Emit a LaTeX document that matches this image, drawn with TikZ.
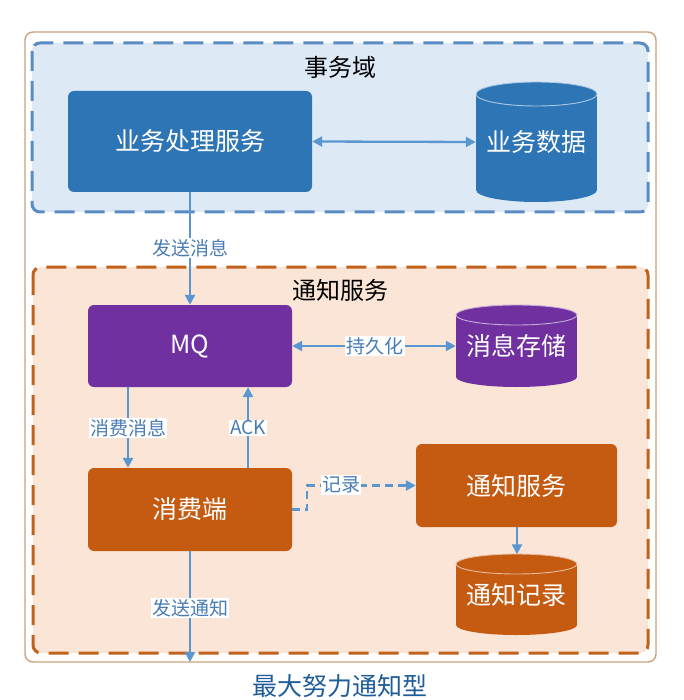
\documentclass[tikz,border=0pt]{standalone}
\usepackage{fontspec}
\setmainfont{Noto Sans CJK SC}
\usetikzlibrary{arrows.meta}
\definecolor{bluebox}{HTML}{2E75B6}
\definecolor{purplebox}{HTML}{7030A0}
\definecolor{orangebox}{HTML}{C55A11}
\definecolor{bluefill}{HTML}{DDEAF6}
\definecolor{blueline}{HTML}{5A8CC4}
\definecolor{orangefill}{HTML}{FBE5D6}
\definecolor{orangeline}{HTML}{C0621C}
\definecolor{arrowc}{HTML}{5A96CF}
\definecolor{framec}{HTML}{C9A27E}
\definecolor{labelc}{HTML}{4A7DB5}
\definecolor{titlec}{HTML}{1F5C99}
\newcommand\mycyl[6]{%
  \fill[#6] (#1-#4,#2+#5) rectangle (#1+#4,#3-#5);
  \fill[#6] (#1,#3-#5) ellipse ({#4pt} and {#5pt});
  \fill[#6] (#1,#2+#5) ellipse ({#4pt} and {#5pt});
  \draw[white!60!#6, line width=0.9pt] (#1,#2+#5) ellipse ({#4pt} and {#5pt});
}
\tikzset{
  box/.style={rounded corners=6pt, text=white, font=\fontsize{25}{28}\selectfont, inner sep=0pt},
  cyltext/.style={text=white, font=\fontsize{25}{28}\selectfont, inner sep=0pt},
  domtitle/.style={font=\fontsize{24}{28}\selectfont, text=black},
  lbl/.style={fill=white, text=labelc, font=\fontsize{19}{22}\selectfont, inner sep=1.2pt},
  conn/.style={draw=arrowc, line width=2.3pt, -{Triangle[length=10pt,width=10pt]}},
  dconn/.style={draw=arrowc, line width=2.3pt, {Triangle[length=10pt,width=10pt]}-{Triangle[length=10pt,width=10pt]}},
  dombox/.style={rounded corners=8pt, line width=3pt, dash pattern=on 20pt off 10pt},
}
\begin{document}
\begin{tikzpicture}[x=1pt, y=-1pt]
\useasboundingbox (0,0) rectangle (683,700);
% outer frame
\draw[framec, line width=1.4pt, rounded corners=8pt, fill=white] (25,32) rectangle (656,662);
% domains
\draw[dombox, draw=blueline, fill=bluefill] (32,43) rectangle (648,212);
\draw[dombox, draw=orangeline, fill=orangefill] (33,267) rectangle (648,653);
\node[domtitle] (t1) at (340,67) {事务域};
\node[domtitle] (t2) at (340,290) {通知服务};
% cylinders
\mycyl{536.5}{82}{202}{60.5}{12}{bluebox}
\mycyl{516.5}{305}{387}{60.5}{10}{purplebox}
\mycyl{516.5}{554}{635}{60.5}{10}{orangebox}
% nodes
\node[box, fill=bluebox, minimum width=244pt, minimum height=101pt] (biz) at (190,141.5) {业务处理服务};
\node[cyltext, minimum width=121pt, minimum height=120pt] (bdata) at (536.5,142) {业务数据};
\node[box, fill=purplebox, minimum width=204pt, minimum height=82pt] (mq) at (190,346) {MQ};
\node[cyltext, minimum width=121pt, minimum height=82pt] (mstore) at (516.5,346) {消息存储};
\node[box, fill=orangebox, minimum width=204pt, minimum height=83pt] (cons) at (190,509.5) {消费端};
\node[box, fill=orangebox, minimum width=201pt, minimum height=83pt] (nsvc) at (516.5,485.5) {通知服务};
\node[cyltext, minimum width=121pt, minimum height=81pt] (nrec) at (516.5,595) {通知记录};
\coordinate (out) at (190,662);
% connectors
\draw[dconn] (biz.east) -- (bdata.west);
\draw[conn] (biz.south) -- (mq.north);
\draw[dconn] (mq.east) -- (mstore.west);
\draw[conn] (mq.south -| 128,0) -- (cons.north -| 128,0);
\draw[conn] (cons.north -| 248,0) -- (mq.south -| 248,0);
\draw[conn, dash pattern=on 8pt off 5pt] (cons.east) -- ++(15,0) |- (nsvc.west);
\draw[conn] (nsvc.south -| 517,0) -- (nrec.north -| 517,0);
\draw[conn] (cons.south) -- (out);
% labels
\node[lbl] (l1) at (190,248) {发送消息};
\node[lbl] (l2) at (375,346) {持久化};
\node[lbl] (l3) at (128,428) {消费消息};
\node[lbl] (l4) at (248,428) {ACK};
\node[lbl] (l5) at (341,485) {记录};
\node[lbl] (l6) at (190,608) {发送通知};
\node[font=\fontsize{25}{28}\selectfont, text=titlec] (title) at (340,686) {最大努力通知型};
\end{tikzpicture}
\end{document}
